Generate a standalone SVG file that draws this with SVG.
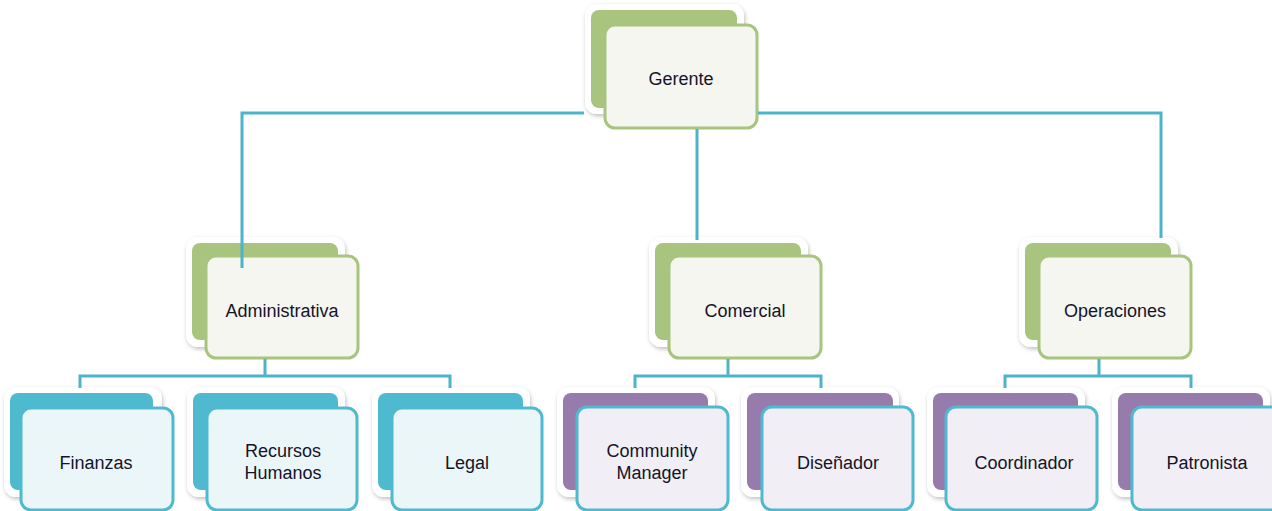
<svg xmlns="http://www.w3.org/2000/svg" width="1272" height="511" viewBox="0 0 1272 511">
<defs>
<filter id="sh" x="-10%" y="-10%" width="130%" height="130%">
<feDropShadow dx="1" dy="2" stdDeviation="2" flood-color="#000" flood-opacity="0.25"/>
</filter>
<style>
.halo{fill:#fff;filter:url(#sh)}
.bg{fill:#a9c47f}
.bb{fill:#4fb9cf}
.bp{fill:#977bac}
.fg{fill:#f4f6ef;stroke:#a9c47f;stroke-width:3}
.fb{fill:#ebf6f9;stroke:#4fb9cf;stroke-width:3}
.fp{fill:#f1eff5;stroke:#4fb9cf;stroke-width:3}
text{font-family:"Liberation Sans",Arial,sans-serif;font-size:18px;fill:#14142a;text-anchor:middle}
.c{fill:none;stroke:#4cb3c8;stroke-width:3}
</style>
</defs>
<rect width="1272" height="511" fill="#fff"/>

<g id="gerente">
<rect class="halo" x="585" y="4" width="159" height="110" rx="12"/>
<rect class="bg" x="591" y="10" width="146" height="98" rx="8"/>
<rect class="fg" x="605" y="25" width="152" height="103" rx="10"/>
<text x="681" y="85">Gerente</text>
</g>

<g id="administrativa">
<rect class="halo" x="186" y="237" width="159" height="110" rx="12"/>
<rect class="bg" x="192" y="243" width="146" height="97" rx="8"/>
<rect class="fg" x="206" y="256" width="152" height="102" rx="10"/>
<text x="282" y="317">Administrativa</text>
</g>

<g id="comercial">
<rect class="halo" x="649" y="237" width="159" height="110" rx="12"/>
<rect class="bg" x="655" y="243" width="146" height="97" rx="8"/>
<rect class="fg" x="669" y="256" width="152" height="102" rx="10"/>
<text x="745" y="317">Comercial</text>
</g>

<g id="operaciones">
<rect class="halo" x="1019" y="237" width="159" height="110" rx="12"/>
<rect class="bg" x="1025" y="243" width="146" height="97" rx="8"/>
<rect class="fg" x="1039" y="256" width="152" height="102" rx="10"/>
<text x="1115" y="317">Operaciones</text>
</g>

<g id="finanzas">
<rect class="halo" x="4" y="387" width="158" height="110" rx="12"/>
<rect class="bb" x="10" y="393" width="143" height="97" rx="8"/>
<rect class="fb" x="21" y="408" width="152" height="102" rx="10"/>
<text x="96" y="469">Finanzas</text>
</g>

<g id="recursos-humanos">
<rect class="halo" x="187" y="387" width="158" height="110" rx="12"/>
<rect class="bb" x="193" y="393" width="145" height="97" rx="8"/>
<rect class="fb" x="207" y="408" width="150" height="102" rx="10"/>
<text x="283" y="457">Recursos</text>
<text x="283" y="479">Humanos</text>
</g>

<g id="legal">
<rect class="halo" x="372" y="387" width="158" height="110" rx="12"/>
<rect class="bb" x="378" y="393" width="145" height="97" rx="8"/>
<rect class="fb" x="392" y="408" width="150" height="102" rx="10"/>
<text x="467" y="469">Legal</text>
</g>

<g id="community-manager">
<rect class="halo" x="557" y="387" width="158" height="110" rx="12"/>
<rect class="bp" x="563" y="393" width="145" height="97" rx="8"/>
<rect class="fp" x="577" y="407" width="151" height="103" rx="10"/>
<text x="652" y="457">Community</text>
<text x="652" y="479">Manager</text>
</g>

<g id="disenador">
<rect class="halo" x="741" y="387" width="158" height="110" rx="12"/>
<rect class="bp" x="747" y="393" width="146" height="97" rx="8"/>
<rect class="fp" x="762" y="407" width="151" height="103" rx="10"/>
<text x="838" y="469">Diseñador</text>
</g>

<g id="coordinador">
<rect class="halo" x="927" y="387" width="158" height="110" rx="12"/>
<rect class="bp" x="933" y="393" width="145" height="97" rx="8"/>
<rect class="fp" x="946" y="407" width="151" height="103" rx="10"/>
<text x="1024" y="469">Coordinador</text>
</g>

<g id="patronista">
<rect class="halo" x="1112" y="387" width="158" height="110" rx="12"/>
<rect class="bp" x="1118" y="393" width="145" height="97" rx="8"/>
<rect class="fp" x="1132" y="407" width="151" height="103" rx="10"/>
<text x="1207" y="469">Patronista</text>
</g>

<g id="connectors">
<path class="c" d="M242 268 V113 H584 M758 113 H1161 V238 M697 129 V240"/>
<path class="c" d="M265 359 V376 M80 388 V376 H450 V388"/>
<path class="c" d="M728 359 V376 M635 388 V376 H821 V388"/>
<path class="c" d="M1099 359 V376 M1005 388 V376 H1191 V388"/>
</g>
</svg>
